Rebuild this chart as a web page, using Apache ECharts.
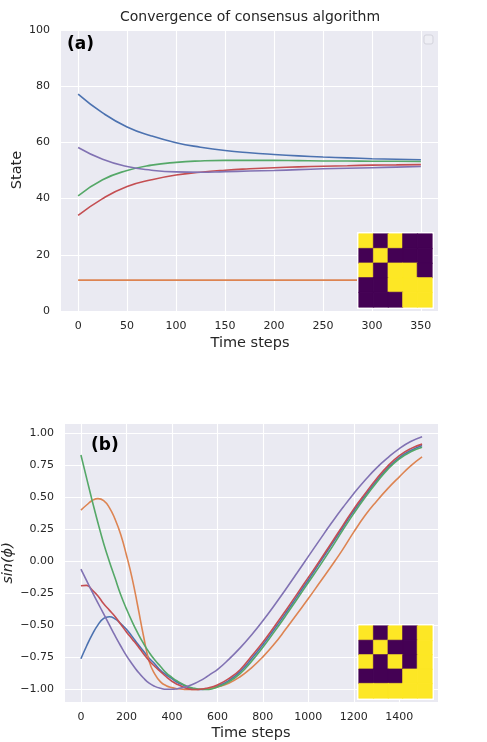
<!DOCTYPE html>
<html>
<head>
<meta charset="utf-8">
<script src="https://cdn.jsdelivr.net/npm/echarts@6/dist/echarts.min.js"></script>
<style>
  html, body { margin: 0; padding: 0; background: #fff; }
  #main { width: 487px; height: 742px; }
</style>
</head>
<body>
<div id="main"></div>
<script>
// (a) consensus states
var timesA = [0, 25, 50, 75, 100, 125, 150, 175, 200, 225, 250, 275, 300, 325, 350];
var blueA = [77.2, 70.5, 65.5, 62.3, 59.9, 58.3, 57.1, 56.3, 55.7, 55.2, 54.8, 54.5, 54.2, 54.0, 53.8];
var orangeA = [11, 11, 11, 11, 11, 11, 11, 11, 11, 11, 11, 11, 11, 11, 11];
var greenA = [41.0, 46.7, 50.0, 51.9, 52.9, 53.4, 53.6, 53.6, 53.6, 53.5, 53.4, 53.4, 53.3, 53.3, 53.2];
var redA = [34.0, 40.0, 44.3, 46.7, 48.4, 49.4, 50.1, 50.6, 51.0, 51.3, 51.5, 51.7, 51.9, 52.0, 52.1];
var purpleA = [58.2, 54.0, 51.4, 50.1, 49.5, 49.4, 49.6, 49.8, 50.0, 50.3, 50.6, 50.8, 51.0, 51.2, 51.4];
var xTicksA = [0, 50, 100, 150, 200, 250, 300, 350];

// (b) sin(phi)
var timesB = [0, 25, 50, 75, 100, 125, 150, 175, 200, 225, 250, 275, 300, 325, 350, 375, 400, 425, 450, 475, 500, 525, 550, 575, 600,
    650, 700, 750, 800, 850, 900, 950, 1000, 1050, 1100, 1150, 1200, 1250, 1300, 1350, 1400, 1450, 1500];
var blueB = [-0.76, -0.66, -0.57, -0.495, -0.445, -0.432, -0.448, -0.485, -0.53, -0.585, -0.645, -0.70, -0.755, -0.80, -0.85, -0.885, -0.915, -0.945, -0.965, -0.985, -0.995, -1.0, -0.995, -0.988, -0.975,
    -0.93, -0.86, -0.76, -0.65, -0.53, -0.405, -0.275, -0.145, -0.01, 0.125, 0.26, 0.395, 0.515, 0.63, 0.73, 0.81, 0.865, 0.905];
var orangeB = [0.40, 0.44, 0.475, 0.49, 0.475, 0.42, 0.33, 0.21, 0.05, -0.13, -0.35, -0.58, -0.78, -0.88, -0.94, -0.97, -0.985, -0.993, -0.998, -1.0, -1.0, -0.998, -0.995, -0.99, -0.98,
    -0.95, -0.90, -0.83, -0.745, -0.645, -0.53, -0.41, -0.29, -0.165, -0.04, 0.09, 0.23, 0.36, 0.47, 0.57, 0.66, 0.745, 0.815];
var greenB = [0.83, 0.65, 0.47, 0.30, 0.14, 0.0, -0.13, -0.26, -0.37, -0.47, -0.56, -0.64, -0.71, -0.77, -0.82, -0.87, -0.905, -0.935, -0.96, -0.98, -0.99, -0.997, -1.0, -0.995, -0.98,
    -0.94, -0.875, -0.78, -0.67, -0.55, -0.425, -0.295, -0.165, -0.035, 0.10, 0.24, 0.375, 0.50, 0.615, 0.72, 0.80, 0.855, 0.89];
var redB = [-0.19, -0.187, -0.224, -0.27, -0.33, -0.38, -0.43, -0.49, -0.55, -0.605, -0.66, -0.72, -0.775, -0.82, -0.86, -0.90, -0.935, -0.96, -0.98, -0.995, -1.0, -0.998, -0.99, -0.98, -0.965,
    -0.915, -0.845, -0.74, -0.63, -0.51, -0.385, -0.255, -0.125, 0.005, 0.14, 0.275, 0.41, 0.53, 0.645, 0.745, 0.825, 0.88, 0.915];
var purpleB = [-0.06, -0.15, -0.24, -0.325, -0.41, -0.495, -0.58, -0.66, -0.735, -0.80, -0.86, -0.91, -0.95, -0.975, -0.99, -0.998, -0.998, -0.993, -0.984, -0.97, -0.952, -0.93, -0.904, -0.874, -0.845,
    -0.765, -0.675, -0.574, -0.463, -0.344, -0.219, -0.091, 0.039, 0.168, 0.295, 0.416, 0.53, 0.635, 0.73, 0.81, 0.88, 0.935, 0.973];
var xTicksB = [0, 200, 400, 600, 800, 1000, 1200, 1400];
var yTicksB = [-1, -0.75, -0.5, -0.25, 0, 0.25, 0.5, 0.75, 1];

// adjacency matrices of the insets (1 = yellow)
var matrixA = [
    [1, 0, 1, 0, 0],
    [0, 1, 0, 0, 0],
    [1, 0, 1, 1, 0],
    [0, 0, 1, 1, 1],
    [0, 0, 0, 1, 1]
];
var matrixB = [
    [1, 0, 1, 0, 1],
    [0, 1, 0, 0, 1],
    [1, 0, 1, 0, 1],
    [0, 0, 0, 1, 1],
    [1, 1, 1, 1, 1]
];

var colors = ['#4c72b0', '#dd8452', '#55a868', '#c44e52', '#8172b3'];
var cmap = ['#440154', '#fde725'];
var FONT = 'DejaVu Sans';
var TXT = '#262626';

function pairs(xs, ys) {
    return xs.map(function (x, i) { return [x, ys[i]]; });
}
// matrix -> heatmap cells, each cell stroked in its own colour so no seams show
function cells(m) {
    var out = [];
    m.forEach(function (row, r) {
        row.forEach(function (v, c) {
            out.push({
                value: [c, r, v],
                itemStyle: {color: cmap[v], borderColor: cmap[v], borderWidth: 0.6}
            });
        });
    });
    return out;
}
function fmtB(v) {
    return v.toFixed(2).replace('-', '\u2212');
}

var myChart = echarts.init(document.getElementById('main'));

var gridStyle = {show: true, backgroundColor: '#eaeaf2', borderWidth: 0};
var split = {show: true, lineStyle: {color: '#ffffff', width: 1.1}};
var lbl = {color: TXT, fontFamily: FONT, fontSize: 11};

var lineSeries = [];
[blueA, orangeA, greenA, redA, purpleA].forEach(function (arr, i) {
    lineSeries.push({
        type: 'line', xAxisIndex: 0, yAxisIndex: 0,
        data: pairs(timesA, arr), showSymbol: false, smooth: 0.5,
        lineStyle: {color: colors[i], width: 1.6}, itemStyle: {color: colors[i]},
        silent: true
    });
});
[blueB, orangeB, greenB, redB, purpleB].forEach(function (arr, i) {
    lineSeries.push({
        type: 'line', xAxisIndex: 1, yAxisIndex: 1,
        data: pairs(timesB, arr), showSymbol: false, smooth: 0.5,
        lineStyle: {color: colors[i], width: 1.6}, itemStyle: {color: colors[i]},
        silent: true
    });
});

var option = {
    animation: false,
    grid: [
        Object.assign({left: 61, top: 30, width: 377, height: 281}, gridStyle),
        Object.assign({left: 65, top: 424, width: 373, height: 278}, gridStyle),
        {left: 359, top: 234, width: 73, height: 73},
        {left: 359, top: 626, width: 73, height: 72}
    ],
    xAxis: [
        {
            type: 'value', gridIndex: 0, min: -17.5, max: 367.5,
            axisLine: {show: false},
            axisTick: {show: false, customValues: xTicksA},
            axisLabel: Object.assign({customValues: xTicksA, margin: 10}, lbl),
            splitLine: split
        },
        {
            type: 'value', gridIndex: 1, min: -70, max: 1570,
            axisLine: {show: false},
            axisTick: {show: false, customValues: xTicksB},
            axisLabel: Object.assign({customValues: xTicksB, margin: 10,
                formatter: function (v) { return String(v); }}, lbl),
            splitLine: split
        },
        {type: 'category', gridIndex: 2, data: [0, 1, 2, 3, 4], show: false},
        {type: 'category', gridIndex: 3, data: [0, 1, 2, 3, 4], show: false}
    ],
    yAxis: [
        {
            type: 'value', gridIndex: 0, min: 0, max: 100, interval: 20,
            axisLine: {show: false}, axisTick: {show: false},
            axisLabel: Object.assign({margin: 11}, lbl),
            splitLine: split
        },
        {
            type: 'value', gridIndex: 1, min: -1.097, max: 1.072,
            axisLine: {show: false},
            axisTick: {show: false, customValues: yTicksB},
            axisLabel: Object.assign({customValues: yTicksB, margin: 11, formatter: fmtB}, lbl),
            splitLine: split
        },
        {type: 'category', gridIndex: 2, data: [0, 1, 2, 3, 4], inverse: true, show: false},
        {type: 'category', gridIndex: 3, data: [0, 1, 2, 3, 4], inverse: true, show: false}
    ],
    series: lineSeries.concat([
        {type: 'heatmap', xAxisIndex: 2, yAxisIndex: 2, data: cells(matrixA), z: 5, silent: true},
        {type: 'heatmap', xAxisIndex: 3, yAxisIndex: 3, data: cells(matrixB), z: 5, silent: true}
    ]),
    graphic: [
        {type: 'text', x: 250, y: 17, style: {text: 'Convergence of consensus algorithm', fill: TXT,
            font: '14px "DejaVu Sans"', align: 'center', verticalAlign: 'middle'}},
        {type: 'text', x: 67, y: 45, z: 10, style: {text: '(a)', fill: '#000',
            font: 'bold 17px "DejaVu Sans"', align: 'left', verticalAlign: 'middle'}},
        {type: 'text', x: 91, y: 446, z: 10, style: {text: '(b)', fill: '#000',
            font: 'bold 17px "DejaVu Sans"', align: 'left', verticalAlign: 'middle'}},
        {type: 'text', x: 17, y: 170, rotation: Math.PI / 2, style: {text: 'State', fill: TXT,
            font: '14.5px "DejaVu Sans"', align: 'center', verticalAlign: 'middle'}},
        {type: 'text', x: 8, y: 563, rotation: Math.PI / 2, style: {text: 'sin(\u03d5)', fill: TXT,
            font: 'italic 14.5px "DejaVu Sans"', align: 'center', verticalAlign: 'middle'}},
        {type: 'text', x: 250, y: 343, style: {text: 'Time steps', fill: TXT,
            font: '14.5px "DejaVu Sans"', align: 'center', verticalAlign: 'middle'}},
        {type: 'text', x: 251, y: 733, style: {text: 'Time steps', fill: TXT,
            font: '14.5px "DejaVu Sans"', align: 'center', verticalAlign: 'middle'}},
        // empty legend frame
        {type: 'rect', x: 424, y: 35, z: 4, shape: {width: 9, height: 9, r: 2},
            style: {fill: '#eeeef4', stroke: '#d3d3dc', lineWidth: 1}},
        // white frames behind the insets
        {type: 'rect', x: 357, y: 232, z: 4, shape: {width: 77, height: 77},
            style: {fill: '#ffffff'}},
        {type: 'rect', x: 357, y: 624, z: 4, shape: {width: 77, height: 76},
            style: {fill: '#ffffff'}}
    ]
};
myChart.setOption(option);
</script>
</body>
</html>
